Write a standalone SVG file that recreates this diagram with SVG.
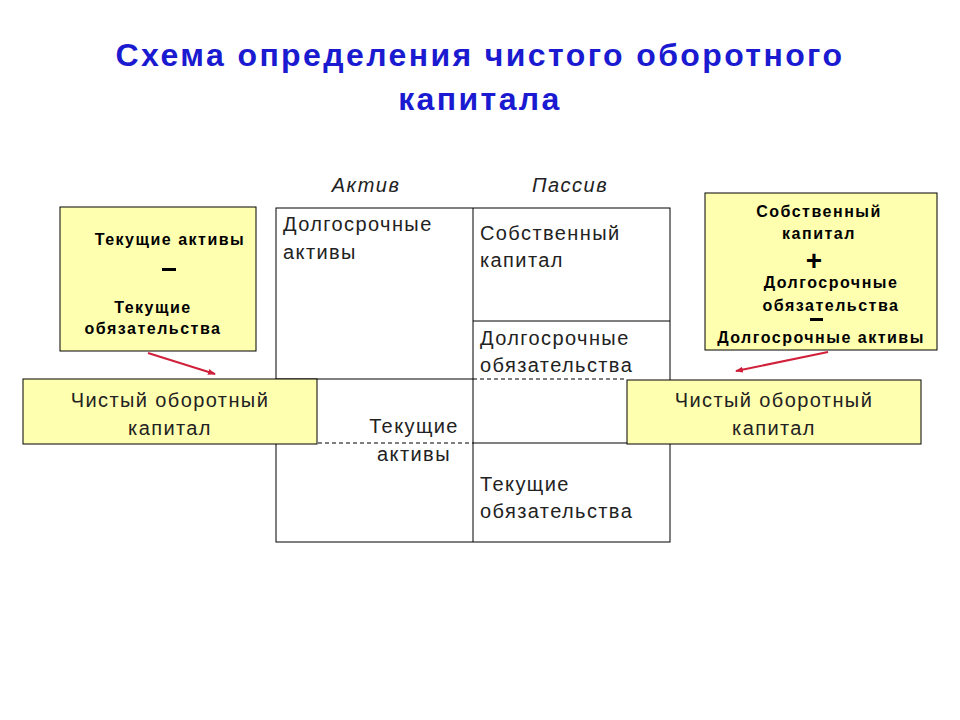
<svg xmlns="http://www.w3.org/2000/svg" width="960" height="720" viewBox="0 0 960 720">
<style>
text{font-family:"Liberation Sans",Arial,sans-serif;fill:#000}
.t{font-size:32px;font-weight:bold;fill:#1a1ad0;text-anchor:middle;letter-spacing:2.4px}
.h{font-size:20px;font-style:italic;fill:#222;text-anchor:middle;letter-spacing:1.5px}
.n{font-size:20px;fill:#222;letter-spacing:1.4px}
.c{text-anchor:middle}
.b{font-size:16px;font-weight:bold;text-anchor:middle;letter-spacing:1.5px}
.y{fill:#ffffb0;stroke:#000;stroke-width:1}
.g{stroke:#000;stroke-width:1;fill:none}
.d{stroke:#000;stroke-width:1;stroke-dasharray:4,3}
.a{stroke:#d0203a;stroke-width:2;marker-end:url(#ar)}
</style>
<defs><marker id="ar" markerWidth="8" markerHeight="6" refX="7" refY="3" orient="auto" markerUnits="userSpaceOnUse"><path d="M0,0L8,3L0,6z" fill="#d0203a"/></marker></defs>
<rect width="960" height="720" fill="#fff"/>
<text class="t" x="480" y="66">Схема определения чистого оборотного</text>
<text class="t" x="480" y="110">капитала</text>
<text class="h" x="366" y="192">Актив</text>
<text class="h" x="570" y="192">Пассив</text>
<g id="grid">
<rect class="g" x="276" y="208" width="394" height="334"/>
<line class="g" x1="473" y1="208" x2="473" y2="542"/>
<line class="g" x1="276" y1="379" x2="473" y2="379"/>
<line class="d" x1="318" y1="443" x2="473" y2="443"/>
<line class="g" x1="473" y1="321" x2="670" y2="321"/>
<line class="d" x1="473" y1="379" x2="627" y2="379"/>
<line class="g" x1="473" y1="443" x2="670" y2="443"/>
<text class="n" x="283" y="231">Долгосрочные</text>
<text class="n" x="283" y="259">активы</text>
<text class="n" x="480" y="240">Собственный</text>
<text class="n" x="480" y="267">капитал</text>
<text class="n" x="480" y="345">Долгосрочные</text>
<text class="n" x="480" y="372">обязательства</text>
<text class="n c" x="414" y="433">Текущие</text>
<text class="n c" x="414" y="461">активы</text>
<text class="n" x="480" y="491">Текущие</text>
<text class="n" x="480" y="518">обязательства</text>
</g>
<g id="leftFormula">
<rect class="y" x="60" y="207" width="196" height="144"/>
<text class="b" x="170" y="245">Текущие активы</text>
<rect x="162" y="268" width="14" height="3" fill="#000"/>
<text class="b" x="153" y="313">Текущие</text>
<text class="b" x="153" y="334">обязательства</text>
</g>
<g id="rightFormula">
<rect class="y" x="705" y="193" width="232" height="157"/>
<text class="b" x="819" y="217">Собственный</text>
<text class="b" x="819" y="239">капитал</text>
<text x="814" y="270" style="font-size:28px;font-weight:bold;text-anchor:middle">+</text>
<text class="b" x="831" y="288">Долгосрочные</text>
<text class="b" x="831" y="311">обязательства</text>
<rect x="810" y="318" width="13" height="3" fill="#000"/>
<text class="b" x="821" y="343">Долгосрочные активы</text>
</g>
<g id="leftNWC">
<rect class="y" x="23" y="379" width="294" height="65"/>
<text class="n c" x="170" y="407">Чистый оборотный</text>
<text class="n c" x="170" y="435">капитал</text>
</g>
<g id="rightNWC">
<rect class="y" x="627" y="380" width="294" height="64"/>
<text class="n c" x="774" y="407">Чистый оборотный</text>
<text class="n c" x="774" y="435">капитал</text>
</g>
<g id="connectors">
<line class="a" x1="148" y1="353" x2="215" y2="374"/>
<line class="a" x1="828" y1="352" x2="736" y2="371"/>
</g>
</svg>
